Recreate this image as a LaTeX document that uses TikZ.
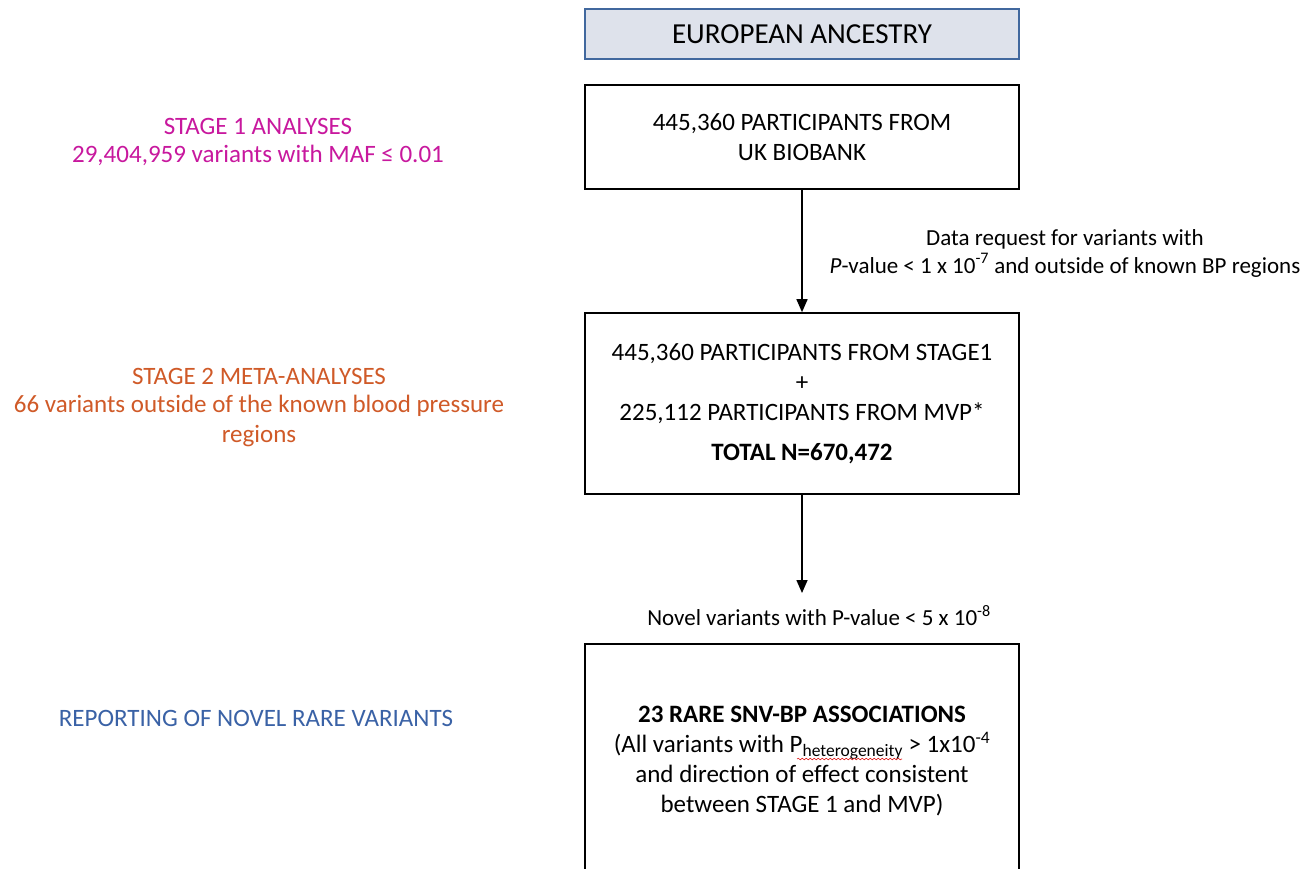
\documentclass[tikz,border=0pt]{standalone}
\usepackage{fontspec}
\setmainfont{Carlito}
\usetikzlibrary{arrows.meta,decorations.pathmorphing}
\definecolor{hdrfill}{HTML}{DEE2EB}
\definecolor{hdrline}{HTML}{41689E}
\definecolor{stageone}{HTML}{C8189E}
\definecolor{stagetwo}{HTML}{D05A28}
\definecolor{reportblue}{HTML}{3A62A6}
\definecolor{squiggle}{HTML}{E02020}
\tikzset{
  flowbox/.style={draw=black, line width=1.6pt, fill=white, minimum width=434pt, align=center, inner sep=4pt, font=\fontsize{25}{30}\selectfont},
  hdrbox/.style={draw=hdrline, line width=1.6pt, fill=hdrfill, minimum width=434pt, minimum height=50pt, font=\fontsize{29}{32}\selectfont},
  arr/.style={line width=1.5pt, -{Triangle[length=13pt,width=11pt]}},
  lbl/.style={align=center, inner sep=0pt, font=\fontsize{23}{28}\selectfont},
  side/.style={align=center, inner sep=0pt, font=\fontsize{25}{30}\selectfont}
}
\begin{document}
\begin{tikzpicture}[x=1pt,y=-1pt]
\useasboundingbox (0,0) rectangle (1305,868);
\clip (0,0) rectangle (1305,868);
\fill[white] (0,0) rectangle (1305,868);

\node[hdrbox] (hdr) at (802,34) {EUROPEAN ANCESTRY};
\node[flowbox, minimum height=104pt] (ukb) at (802,137) {445,360 PARTICIPANTS FROM\\UK BIOBANK};
\node[flowbox, minimum height=181pt] (meta) at (802,403.5) {445,360 PARTICIPANTS FROM STAGE1\\+\\225,112 PARTICIPANTS FROM MVP*\\[10pt]\textbf{TOTAL N=670,472}};
\node[flowbox, minimum height=234pt, anchor=north] (rep) at (802,643) {\textbf{23 RARE SNV-BP ASSOCIATIONS}\\(All variants with P\textsubscript{heterogeneity} > 1x10\textsuperscript{-4}\\and direction of effect consistent\\between STAGE 1 and MVP)};

\coordinate (a2end) at (802,593);
\draw[arr] (ukb.south) -- (meta.north);
\draw[arr] (meta.south) -- (a2end);

\node[lbl] (req) at (1065,253) {Data request for variants with\\\textit{P}-value < 1 x 10\textsuperscript{-7} and outside of known BP regions};
\node[lbl] (novel) at (819,616) {Novel variants with P-value < 5 x 10\textsuperscript{-8}};

\node[side, text=stageone] (s1a) at (258,126) {STAGE 1 ANALYSES};
\node[side, text=stageone] (s1b) at (258,155) {29,404,959 variants with MAF ≤ 0.01};
\node[side, text=stagetwo] (s2a) at (259,376) {STAGE 2 META-ANALYSES};
\node[side, text=stagetwo] (s2b) at (259,406) {66 variants outside of the known blood pressure};
\node[side, text=stagetwo] (s2c) at (259,436) {regions};
\node[side, text=reportblue] (rp) at (256,718) {REPORTING OF NOVEL RARE VARIANTS};

\draw[squiggle, line width=0.6pt, decorate, decoration={snake, amplitude=0.8pt, segment length=4pt}] (797,759) -- (902,759);
\end{tikzpicture}
\end{document}
